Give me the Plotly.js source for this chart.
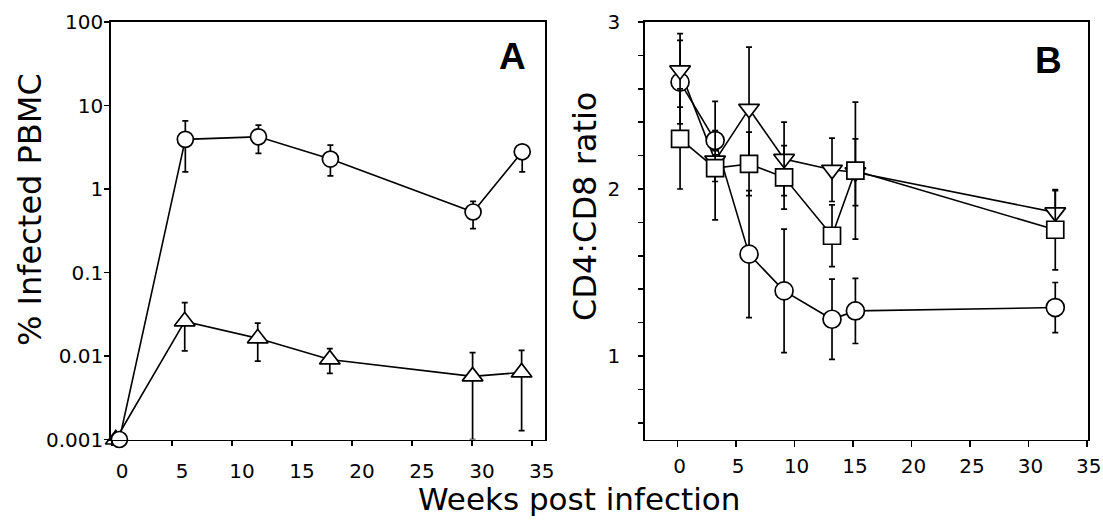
<!DOCTYPE html>
<html>
<head>
<meta charset="utf-8">
<script src="https://cdn.plot.ly/plotly-3.0.1.min.js"></script>
<style>html,body{margin:0;padding:0;background:#fff;}#chart{width:1103px;height:520px;}</style>
</head>
<body>
<div id="chart"></div>
<script>
// ---------- Panel A : % infected PBMC (log scale) ----------
const weeksACircle = [0.6, 6.1, 12.2, 18.2, 30.1, 34.2];
const infectedCircle = [0.001, 3.93, 4.22, 2.28, 0.53, 2.79];
const infectedCircleHi = [0.001, 6.56, 5.82, 3.35, 0.71, 3.3];
const infectedCircleLo = [0.001, 1.60, 2.67, 1.44, 0.336, 1.60];

const weeksATri = [0.3, 6.05, 12.14, 18.15, 30.06, 34.15];
const infectedTri = [0.001, 0.026, 0.0163, 0.0091, 0.0057, 0.00635];
const infectedTriHi = [0.001, 0.0435, 0.0248, 0.01225, 0.011, 0.0117];
const infectedTriLo = [0.001, 0.0115, 0.0087, 0.0062, 0.001, 0.00128];

const yTickValsA = [0.001, 0.01, 0.1, 1, 10, 100];
const yTickTextA = ['0.001', '0.01', '0.1', '1', '10', '100'];

// ---------- Panel B : CD4:CD8 ratio ----------
const weeksB = [0.2, 3.2, 6.1, 9.1, 13.2, 15.2, 32.3];
const ratioCircle = [2.64, 2.29, 1.61, 1.39, 1.22, 1.27, 1.29];
const ratioCircleErr = [0.25, 0.06, 0.38, 0.37, 0.24, 0.195, 0.15];
const ratioTriDown = [2.71, 2.17, 2.48, 2.18, 2.115, 2.10, 1.86];
const ratioTriDownErr = [0.22, 0.355, 0.37, 0.22, 0.19, 0.20, 0.13];
const ratioSquare = [2.30, 2.125, 2.15, 2.07, 1.72, 2.11, 1.756];
const ratioSquareErr = [0.30, 0.08, 0.19, 0.19, 0.185, 0.41, 0.24];

const xTickVals = [0, 5, 10, 15, 20, 25, 30, 35];
const yTickValsB = [0.6, 0.8, 1, 1.2, 1.4, 1.6, 1.8, 2, 2.2, 2.4, 2.6, 2.8, 3];
const yTickTextB = ['', '', '1', '', '', '', '', '2', '', '', '', '', '3'];

// ---------- helpers ----------
const BLACK = '#000';
const W = 1103, H = 520;
const px = v => v / W;
const py = v => 1 - v / H;

function lineTrace(x, y, xa, ya) {
  return {x, y, xaxis: xa, yaxis: ya, mode: 'lines', type: 'scatter',
    line: {color: BLACK, width: 1.6}, hoverinfo: 'skip', cliponaxis: false};
}
function markerTrace(x, y, xa, ya, symbol, size, errPlus, errMinus) {
  return {x, y, xaxis: xa, yaxis: ya, mode: 'markers', type: 'scatter', cliponaxis: false,
    marker: {symbol, size, color: '#fff', line: {color: BLACK, width: 1.7}},
    error_y: {type: 'data', symmetric: false, array: errPlus, arrayminus: errMinus,
      color: BLACK, thickness: 1.7, width: 3}};
}
const diff = (a, b) => a.map((v, i) => v - b[i]);

const data = [
  lineTrace(weeksACircle, infectedCircle, 'x', 'y'),
  lineTrace(weeksATri, infectedTri, 'x', 'y'),
  lineTrace(weeksB, ratioSquare, 'x2', 'y2'),
  lineTrace(weeksB, ratioTriDown, 'x2', 'y2'),
  lineTrace(weeksB, ratioCircle, 'x2', 'y2'),
  markerTrace(weeksATri, infectedTri, 'x', 'y', 'triangle-up', 18,
    diff(infectedTriHi, infectedTri), diff(infectedTri, infectedTriLo)),
  markerTrace(weeksACircle, infectedCircle, 'x', 'y', 'circle', 16,
    diff(infectedCircleHi, infectedCircle), diff(infectedCircle, infectedCircleLo)),
  markerTrace(weeksB, ratioCircle, 'x2', 'y2', 'circle', 18, ratioCircleErr, ratioCircleErr),
  markerTrace(weeksB, ratioTriDown, 'x2', 'y2', 'triangle-down', 18, ratioTriDownErr, ratioTriDownErr),
  markerTrace(weeksB, ratioSquare, 'x2', 'y2', 'square', 17, ratioSquareErr, ratioSquareErr)
];

const tickFont = {family: 'DejaVu Sans', size: 20, color: BLACK};
const axisBase = {showline: true, mirror: true, linecolor: BLACK, linewidth: 1.7,
  ticks: 'outside', tickcolor: BLACK, tickwidth: 1.5, showgrid: false, zeroline: false,
  tickfont: tickFont, automargin: false, fixedrange: true, ticklabeloverflow: 'allow'};
const yDom = [py(439.5), py(22)];

const layout = {
  width: W, height: H, margin: {l: 0, r: 0, t: 0, b: 0},
  paper_bgcolor: '#fff', plot_bgcolor: '#fff', showlegend: false,
  xaxis: Object.assign({}, axisBase, {domain: [px(111), px(545)], range: [-0.1, 36.1],
    anchor: 'y', tickvals: xTickVals, ticklen: 5, ticklabelshift: 10, ticklabelstandoff: 8}),
  yaxis: Object.assign({}, axisBase, {domain: yDom, type: 'log', range: [-3, 2],
    anchor: 'x', tickvals: yTickValsA, ticktext: yTickTextA, ticklen: 5, ticklabelstandoff: -3}),
  xaxis2: Object.assign({}, axisBase, {domain: [px(645), px(1088)], range: [-2.8, 35.1],
    anchor: 'y2', tickvals: xTickVals, ticklen: 6, ticklabelshift: 2, ticklabelstandoff: 2}),
  yaxis2: Object.assign({}, axisBase, {domain: yDom, range: [0.5, 3],
    anchor: 'x2', tickvals: yTickValsB, ticktext: yTickTextB, ticklen: 5, ticklabelstandoff: 14}),
  annotations: [
    {text: '% Infected PBMC', xref: 'paper', yref: 'paper', x: px(30), y: py(210),
      textangle: -90, showarrow: false, xanchor: 'center', yanchor: 'middle',
      font: {family: 'DejaVu Sans', size: 32, color: BLACK}},
    {text: 'CD4:CD8 ratio', xref: 'paper', yref: 'paper', x: px(585), y: py(207),
      textangle: -90, showarrow: false, xanchor: 'center', yanchor: 'middle',
      font: {family: 'DejaVu Sans', size: 32, color: BLACK}},
    {text: 'Weeks post infection', xref: 'paper', yref: 'paper', x: px(579), y: py(499),
      showarrow: false, xanchor: 'center', yanchor: 'middle', borderpad: 0,
      font: {family: 'DejaVu Sans', size: 31, color: BLACK}},
    {text: '<b>A</b>', xref: 'paper', yref: 'paper', x: px(512), y: py(56),
      showarrow: false, xanchor: 'center', yanchor: 'middle',
      font: {family: 'Liberation Sans', size: 37, color: BLACK}},
    {text: '<b>B</b>', xref: 'paper', yref: 'paper', x: px(1048), y: py(60),
      showarrow: false, xanchor: 'center', yanchor: 'middle',
      font: {family: 'Liberation Sans', size: 37, color: BLACK}}
  ]
};

Plotly.newPlot('chart', data, layout, {staticPlot: true, displayModeBar: false});
</script>
</body>
</html>
